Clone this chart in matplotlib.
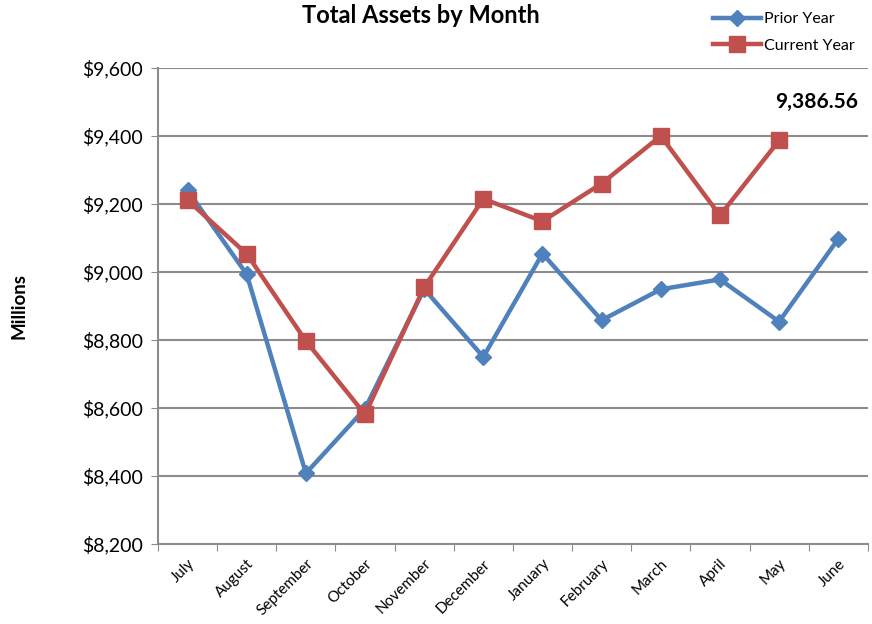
import matplotlib.pyplot as plt
from matplotlib.ticker import FuncFormatter, FixedLocator

plt.rcParams['font.family'] = ['Lato', 'DejaVu Sans']

# Data
months = ["July", "August", "September", "October", "November", "December",
          "January", "February", "March", "April", "May", "June"]
prior_year = [9240, 8993, 8408, 8598, 8950, 8750, 9054, 8858, 8949, 8978, 8854, 9097]
current_year = [9211, 9053, 8797, 8581, 8955, 9215, 9149, 9260, 9400, 9166, 9386.56]

blue = "#4F81BD"
red = "#C0504D"
grid_col = "#8C8C8C"

fig = plt.figure(figsize=(8.72, 6.24), dpi=100)
ax = fig.add_axes([0.1812, 0.1282, 0.814, 0.763])

x_prior = list(range(len(prior_year)))
x_curr = list(range(len(current_year)))

ax.plot(x_prior, prior_year, color=blue, linewidth=3.2, marker="D", markersize=8.5,
        label="Prior Year", zorder=3)
ax.plot(x_curr, current_year, color=red, linewidth=3.2, marker="s", markersize=11,
        label="Current Year", zorder=4)

# Axes
ax.set_xlim(-0.5, len(months) - 0.5)
ax.set_ylim(8200, 9600)
ax.set_yticks(range(8200, 9601, 200))
ax.yaxis.set_major_formatter(FuncFormatter(lambda v, p: "${:,.0f}".format(v)))
ax.tick_params(axis="y", labelsize=14, length=5, color=grid_col, pad=6)

ax.xaxis.set_major_locator(FixedLocator([i - 0.5 for i in range(len(months) + 1)]))
ax.xaxis.set_major_formatter(FuncFormatter(lambda v, p: ""))
ax.xaxis.set_minor_locator(FixedLocator(list(range(len(months)))))
ax.set_xticklabels(months, minor=True, rotation=45, fontsize=11,
                   ha="right", va="top", rotation_mode="anchor")
ax.tick_params(axis="x", which="major", length=5, color=grid_col)
ax.tick_params(axis="x", which="minor", length=0, pad=9)

ax.grid(axis="y", color=grid_col, linewidth=1.5)
ax.set_axisbelow(True)
for s in ["top", "right"]:
    ax.spines[s].set_visible(False)
for s in ["left", "bottom"]:
    ax.spines[s].set_color(grid_col)
    ax.spines[s].set_linewidth(1.5)

ax.set_ylabel("Millions", fontsize=13.5, fontweight="bold", labelpad=39)
fig.text(0.483, 0.975, "Total Assets by Month", ha="center", va="center",
         fontsize=17, fontweight="bold")

# Label last current-year value
ax.annotate("{:,.2f}".format(current_year[-1]), xy=(x_curr[-1], current_year[-1]),
            xytext=(27, 28), textcoords="offset points", ha="center", va="center",
            fontsize=15, fontweight="bold")

ax.legend(loc="upper left", bbox_to_anchor=(0.762, 1.147), frameon=False,
          fontsize=11.5, handlelength=3.0, handletextpad=0.2, labelspacing=0.75)

plt.savefig("out.png", dpi=100)
